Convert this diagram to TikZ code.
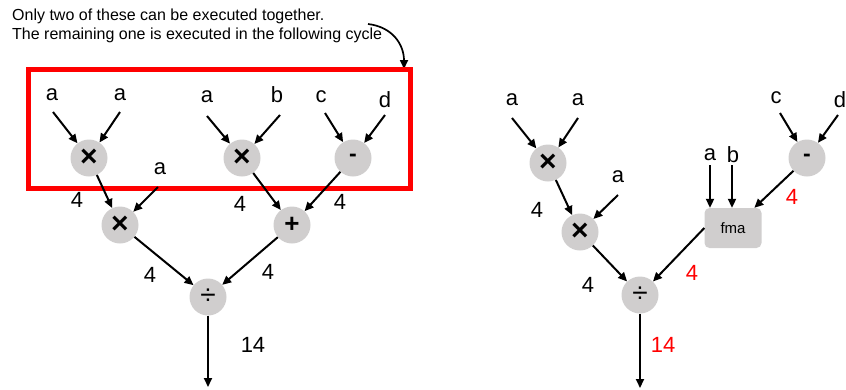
\documentclass[tikz,border=0pt]{standalone}
\usepackage{fontspec}
\setmainfont{Liberation Sans}
\usetikzlibrary{arrows.meta}
\definecolor{opgray}{RGB}{208,206,206}
\definecolor{hotred}{RGB}{255,0,0}
\begin{document}
\begin{tikzpicture}[x=1pt,y=-1pt,
  op/.style={circle,fill=opgray,minimum size=37pt,inner sep=0pt},
  mulop/.style={op,font=\fontsize{30}{30}\selectfont\bfseries},
  addop/.style={op,font=\fontsize{26}{26}\selectfont\bfseries},
  subop/.style={op,font=\fontsize{23}{23}\selectfont\bfseries},
  divop/.style={op,font=\fontsize{28}{28}\selectfont},
  fmabox/.style={rectangle,rounded corners=5pt,fill=opgray,minimum width=57pt,
    minimum height=40pt,inner sep=0pt,font=\fontsize{15}{15}\selectfont},
  lbl/.style={inner sep=0pt,font=\fontsize{22}{24}\selectfont},
  redlbl/.style={lbl,text=hotred},
  note/.style={anchor=base west,inner sep=0pt,font=\fontsize{16}{19}\selectfont},
  arr/.style={line width=2pt,-{Triangle[length=9pt,width=8pt]}},
  group/.style={draw=hotred,line width=5pt}]
\useasboundingbox (0,0) rectangle (846,389);

% ---------- caption ----------
\node[note] (note1) at (12,20) {Only two of these can be executed together.};
\node[note] (note2) at (12,39) {The remaining one is executed in the following cycle};
\coordinate (cs) at (368,24);
\coordinate (ce) at (404,69);
\draw[arr,line width=1.7pt] (cs) .. controls (393,27) and (404,45) .. (ce);

% ---------- left graph: separate operations ----------
\draw[group] (28,69.5) rectangle (410,188.5);

\node[lbl] (la1) at (52,95) {a};
\node[lbl] (la2) at (120,95) {a};
\node[lbl] (la3) at (207,97) {a};
\node[lbl] (lb)  at (277,95) {b};
\node[lbl] (lc)  at (321,97) {c};
\node[lbl] (ld)  at (385,100) {d};
\node[lbl] (la4) at (160,169) {a};

\node[mulop] (m1) at (89,158) {×};
\node[mulop] (m2) at (242,158) {×};
\node[subop] (s1) at (353,158) {-};
\node[mulop] (m3) at (120,225) {×};
\node[addop] (p1) at (292,225) {+};
\node[divop] (d1) at (208,297) {÷};

\coordinate (sa1) at (53,112);
\coordinate (sa2) at (120,112);
\coordinate (sa3) at (207,116);
\coordinate (sb)  at (280,115);
\coordinate (sc)  at (325,113);
\coordinate (sd)  at (385,115);
\coordinate (sa4) at (158,187);
\coordinate (out1) at (208,387);

\draw[arr] (sa1) -- (m1);
\draw[arr] (sa2) -- (m1);
\draw[arr] (sa3) -- (m2);
\draw[arr] (sb) -- (m2);
\draw[arr] (sc) -- (s1);
\draw[arr] (sd) -- (s1);
\draw[arr] (sa4) -- (m3);
\draw[arr] (m1) -- (m3);
\draw[arr] (m2) -- (p1);
\draw[arr] (s1) -- (p1);
\draw[arr] (m3) -- (d1);
\draw[arr] (p1) -- (d1);
\draw[arr] (d1) -- (out1);

\node[lbl] (l4a) at (77,200) {4};
\node[lbl] (l4b) at (240,204) {4};
\node[lbl] (l4c) at (340,202) {4};
\node[lbl] (l4d) at (150,275) {4};
\node[lbl] (l4e) at (268,272) {4};
\node[lbl] (l14) at (253,345) {14};

% ---------- right graph: fused multiply-add ----------
\node[lbl] (ra1) at (512,100) {a};
\node[lbl] (ra2) at (578,100) {a};
\node[lbl] (ra3) at (618,177) {a};
\node[lbl] (ra4) at (710,155) {a};
\node[lbl] (rb)  at (733,155) {b};
\node[lbl] (rc)  at (776,98) {c};
\node[lbl] (rd)  at (840,100) {d};

\node[mulop] (rm1) at (548,163) {×};
\node[mulop] (rm2) at (580,232) {×};
\node[subop] (rs)  at (807,158) {-};
\node[fmabox] (fma) at (733,228) {fma};
\node[divop] (rd1) at (640,295) {÷};

\coordinate (ta1) at (512,118);
\coordinate (ta2) at (578,118);
\coordinate (ta3) at (618,195);
\coordinate (ta4) at (710,165);
\coordinate (tb)  at (732,165);
\coordinate (tc)  at (780,113);
\coordinate (td)  at (838,115);
\coordinate (out2) at (640,388);

\draw[arr] (ta1) -- (rm1);
\draw[arr] (ta2) -- (rm1);
\draw[arr] (ta3) -- (rm2);
\draw[arr] (rm1) -- (rm2);
\draw[arr] (ta4) -- (ta4 |- fma.north);
\draw[arr] (tb) -- (tb |- fma.north);
\draw[arr] (tc) -- (rs);
\draw[arr] (td) -- (rs);
\draw[arr] (rs) -- (fma);
\draw[arr] (rm2) -- (rd1);
\draw[arr] (fma.west) -- (rd1);
\draw[arr] (rd1) -- (out2);

\node[lbl] (r4a) at (537,210) {4};
\node[redlbl] (r4b) at (792,197) {4};
\node[lbl] (r4c) at (588,285) {4};
\node[redlbl] (r4d) at (692,273) {4};
\node[redlbl] (r14) at (663,345) {14};
\end{tikzpicture}
\end{document}
